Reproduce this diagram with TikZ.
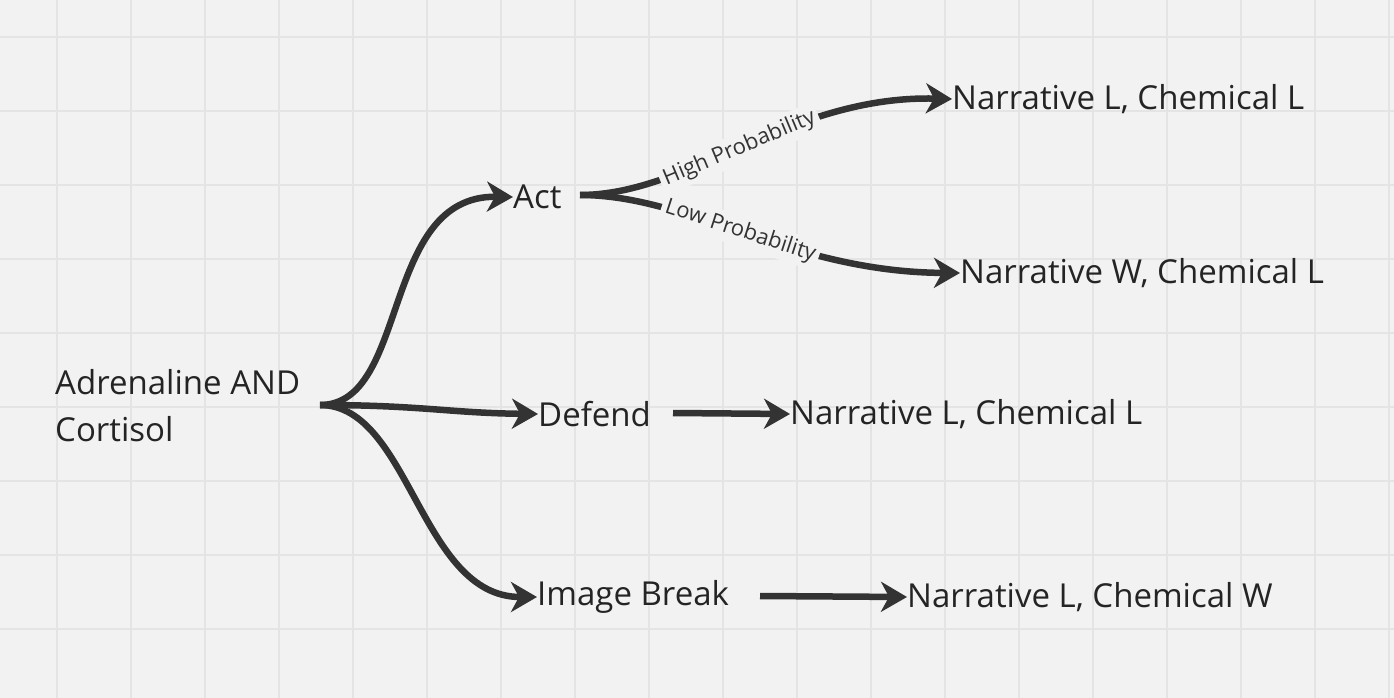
\documentclass[tikz,border=0pt]{standalone}
\usepackage{fontspec}
\setmainfont{Open Sans}
\usetikzlibrary{arrows.meta}
\definecolor{bg}{HTML}{F2F2F2}
\definecolor{gridc}{HTML}{E4E4E4}
\definecolor{ink}{HTML}{333333}
\begin{document}
\begin{tikzpicture}[x=1pt,y=-1pt,
  txt/.style={anchor=west,inner sep=0pt,font=\fontsize{33}{47}\selectfont,text=ink!70!black},
  lbl/.style={sloped,fill=bg,inner sep=4pt,font=\fontsize{22}{26}\selectfont,text=ink},
  conn/.style={draw=ink,line width=6.5pt,-{Stealth[length=26pt,width=30pt,inset=8pt]}}]
\fill[bg] (0,0) rectangle (1394,698);
\useasboundingbox (0,0) rectangle (1394,698);
\foreach \x in {57,131,...,1394} \draw[gridc,line width=1.2pt] (\x,0) -- (\x,698);
\foreach \y in {37,111,...,698} \draw[gridc,line width=1.2pt] (0,\y) -- (1394,\y);
\node[txt,align=left] (adr) at (55,406) {Adrenaline AND\\Cortisol};
\coordinate (src) at (320,405);
\node[txt] (act) at (513,197) {Act};
\node[txt] (def) at (538,414) {Defend};
\node[txt] (img) at (537,597) {Image Break};
\node[txt] (n1) at (952,99) {Narrative L, Chemical L};
\node[txt] (n2) at (960,273) {Narrative W, Chemical L};
\node[txt] (n3) at (790,414) {Narrative L, Chemical L};
\node[txt] (n4) at (907,597) {Narrative L, Chemical W};
\coordinate (acte) at (580,195);
\coordinate (defe) at (673,413);
\coordinate (imge) at (760,596);
\draw[conn] (src) .. controls (410,405) and (380,195) .. (act.west);
\draw[conn] (src) .. controls (420,405) and (450,413) .. (def.west);
\draw[conn] (src) .. controls (410,405) and (420,597) .. (img.west);
\draw[conn] (acte) .. controls (690,195) and (790,95) .. (n1.west)
  node[lbl,pos=0.48] {High Probability};
\draw[conn] (acte) .. controls (690,195) and (790,272) .. (n2.west)
  node[lbl,pos=0.48] {Low Probability};
\draw[conn] (defe) -- (n3.west);
\draw[conn] (imge) -- (n4.west);
\end{tikzpicture}
\end{document}
